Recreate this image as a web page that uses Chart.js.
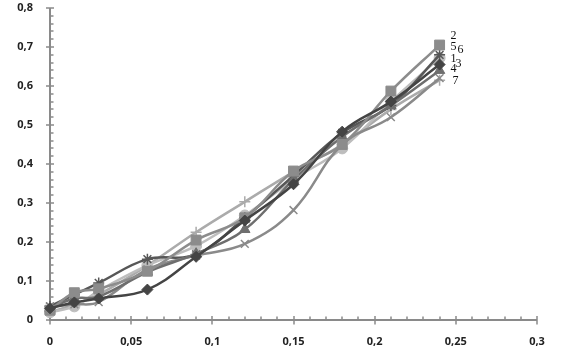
<!DOCTYPE html>
<html><head><meta charset="utf-8">
<script src="https://cdn.jsdelivr.net/npm/chart.js@4"></script>
<style>html,body{margin:0;padding:0;background:#fff;}canvas{display:block;}</style>
</head><body>
<canvas id="c" width="573" height="357"></canvas>
<script>
const xValues = [0, 0.015, 0.03, 0.06, 0.09, 0.12, 0.15, 0.18, 0.21, 0.24];
const seriesNames = ['1', '2', '3', '4', '5', '6', '7'];
const series1 = [0.030, 0.045, 0.055, 0.078, 0.162, 0.255, 0.348, 0.483, 0.560, 0.655];
const series2 = [0.025, 0.070, 0.080, 0.125, 0.205, 0.262, 0.382, 0.450, 0.587, 0.705];
const series3 = [0.030, 0.055, 0.060, 0.123, 0.170, 0.232, 0.360, 0.470, 0.550, 0.640];
const series4 = [0.035, 0.040, 0.046, 0.130, 0.165, 0.195, 0.282, 0.450, 0.520, 0.620];
const series5 = [0.035, 0.065, 0.095, 0.156, 0.168, 0.262, 0.370, 0.480, 0.550, 0.680];
const series6 = [0.020, 0.035, 0.075, 0.140, 0.190, 0.268, 0.360, 0.440, 0.560, 0.672];
const series7 = [0.020, 0.040, 0.065, 0.140, 0.225, 0.303, 0.380, 0.450, 0.540, 0.615];
const xTickLabels = ['0', '0,05', '0,1', '0,15', '0,2', '0,25', '0,3'];
const yTickLabels = ['0', '0,1', '0,2', '0,3', '0,4', '0,5', '0,6', '0,7', '0,8'];

const allSeries = [series1, series2, series3, series4, series5, series6, series7];
const colors = ['#444444', '#8c8c8c', '#6e6e6e', '#8a8a8a', '#575757', '#bdbdbd', '#ababab'];
const markers = ['rectRot', 'rect', 'triangle', 'crossRot', 'star', 'circle', 'cross'];
const markerSizes = [5.5, 7, 6, 5.5, 5.5, 5.5, 5.5];
const labelOffsets = [[14, -6], [14, -9], [19, -7], [14, -9], [14, -8], [21, -8], [16, 1]];

const datasets = allSeries.map((vals, i) => ({
  label: seriesNames[i],
  data: vals.map((v, j) => ({x: xValues[j], y: v})),
  borderColor: colors[i],
  backgroundColor: colors[i],
  pointStyle: markers[i],
  pointRadius: markerSizes[i],
  pointBorderWidth: (markers[i] === 'crossRot' || markers[i] === 'cross' || markers[i] === 'star') ? 1.5 : 1,
  borderWidth: 2.5,
  tension: 0.4,
  fill: false,
  clip: false
}));

const axisPlugin = {
  id: 'axisPlugin',
  beforeDatasetsDraw(chart) {
    const ctx = chart.ctx, xs = chart.scales.x, ys = chart.scales.y;
    const x0 = xs.getPixelForValue(0), x1 = xs.getPixelForValue(0.3);
    const y0 = ys.getPixelForValue(0), y1 = ys.getPixelForValue(0.8);
    ctx.save();
    ctx.strokeStyle = '#8a8a8a';
    ctx.lineWidth = 2;
    ctx.beginPath();
    ctx.moveTo(x0, y0); ctx.lineTo(x0, y1);
    ctx.moveTo(x0 - 1, y0); ctx.lineTo(x1, y0);
    ctx.stroke();
    ctx.lineWidth = 1.5;
    ctx.beginPath();
    for (let k = 0; k <= 40; k++) {
      const py = Math.round(ys.getPixelForValue(k * 0.02));
      if (k % 5 === 0) { ctx.moveTo(x0 - 4, py); ctx.lineTo(x0 + 4, py); }
      else { ctx.moveTo(x0, py); ctx.lineTo(x0 + 3.5, py); }
    }
    for (let k = 0; k <= 30; k++) {
      const px = Math.round(xs.getPixelForValue(k * 0.01));
      if (k % 5 === 0) { ctx.moveTo(px, y0 - 4); ctx.lineTo(px, y0 + 4.5); }
      else { ctx.moveTo(px, y0); ctx.lineTo(px, y0 - 3.5); }
    }
    ctx.stroke();
    ctx.restore();
  },
  afterDatasetsDraw(chart) {
    const ctx = chart.ctx;
    ctx.save();
    ctx.font = '12px "Liberation Serif"';
    ctx.fillStyle = '#111';
    ctx.textAlign = 'center';
    ctx.textBaseline = 'middle';
    chart.data.datasets.forEach((ds, i) => {
      const meta = chart.getDatasetMeta(i);
      const pt = meta.data[meta.data.length - 1];
      ctx.fillText(ds.label, pt.x + labelOffsets[i][0], pt.y + labelOffsets[i][1]);
    });
    ctx.restore();
  }
};

new Chart(document.getElementById('c'), {
  type: 'line',
  data: { datasets },
  options: {
    responsive: false,
    devicePixelRatio: 1,
    animation: false,
    layout: { padding: { top: 8, right: 36, left: 0, bottom: 0 } },
    plugins: { legend: { display: false }, tooltip: { enabled: false } },
    scales: {
      x: {
        type: 'linear', min: 0, max: 0.3,
        grid: { display: false, drawTicks: false },
        border: { display: false },
        ticks: {
          stepSize: 0.05, padding: 15, maxRotation: 0, autoSkip: false,
          color: '#222', font: { family: 'Open Sans', size: 11, weight: 'bold' },
          callback: (v, i) => xTickLabels[i]
        },
        afterFit: s => { s.height = 37; s.paddingLeft = 0; s.paddingRight = 0; }
      },
      y: {
        type: 'linear', min: 0, max: 0.8,
        grid: { display: false, drawTicks: false },
        border: { display: false },
        ticks: {
          stepSize: 0.1, padding: 17, autoSkip: false,
          color: '#222', font: { family: 'Open Sans', size: 11, weight: 'bold' },
          callback: (v, i) => yTickLabels[i]
        },
        afterFit: s => { s.width = 50; s.paddingTop = 0; s.paddingBottom = 0; }
      }
    }
  },
  plugins: [axisPlugin]
});
</script>
</body></html>
